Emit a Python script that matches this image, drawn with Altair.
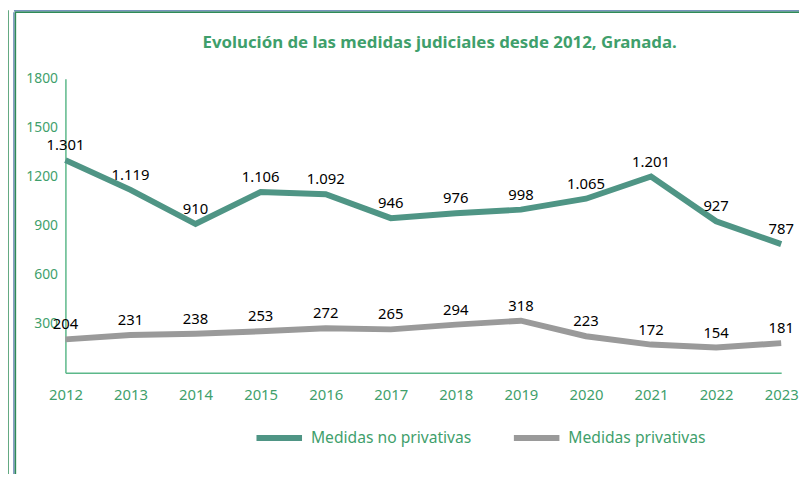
import altair as alt
import pandas as pd

years = [str(y) for y in range(2012, 2024)]
no_privativas = [1301, 1119, 910, 1106, 1092, 946, 976, 998, 1065, 1201, 927, 787]
privativas = [204, 231, 238, 253, 272, 265, 294, 318, 223, 172, 154, 181]
series_names = ["Medidas no privativas", "Medidas privativas"]
y_ticks = [300, 600, 900, 1200, 1500, 1800]
title_text = "Evolución de las medidas judiciales desde 2012, Granada."

def fmt(v):
    return f"{v:,}".replace(",", ".")

rows = []
for name, vals in zip(series_names, [no_privativas, privativas]):
    for y, v in zip(years, vals):
        rows.append({"year": y, "value": v, "serie": name, "label": fmt(v)})
df = pd.DataFrame(rows)

GREEN_TXT = "#3f9f6c"
AXIS_GREEN = "#5cb88a"
FONT = "Noto Sans"

x = alt.X("year:O", title=None, scale=alt.Scale(padding=0),
          axis=alt.Axis(labelAngle=0, ticks=False, domainColor=AXIS_GREEN, domainWidth=1.5,
                        labelColor=GREEN_TXT, labelFontSize=15, labelFont=FONT, labelPadding=15,
                        grid=False))
y = alt.Y("value:Q", title=None, scale=alt.Scale(domain=[0, 1800], nice=False),
          axis=alt.Axis(values=y_ticks, format="d", ticks=False, domainColor=AXIS_GREEN,
                        domainWidth=1.5, labelColor=GREEN_TXT, labelFontSize=14, labelFont=FONT,
                        labelPadding=8, grid=False))
color = alt.Color("serie:N", sort=series_names,
                  scale=alt.Scale(domain=series_names, range=["#4f9585", "#9a9a9a"]),
                  legend=alt.Legend(title=None, orient="none", direction="horizontal",
                                    legendX=190, legendY=337, symbolType="stroke",
                                    symbolSize=2116, symbolStrokeWidth=6, labelFont=FONT,
                                    labelFontSize=15.8, labelColor=GREEN_TXT, labelOffset=6,
                                    columnPadding=30, labelLimit=300))

base = alt.Chart(df)
lines = base.mark_line(strokeWidth=6).encode(x=x, y=y, color=color, detail="serie:N")
labels = base.mark_text(dy=-15, fontSize=15, font=FONT, color="black", baseline="middle").encode(
    x="year:O", y="value:Q", text="label:N")

deco = pd.DataFrame({"k": [0]})
title_mark = alt.Chart(deco).mark_text(
    text=title_text, font=FONT, fontSize=17, fontWeight="bold", color=GREEN_TXT,
    align="center", baseline="middle").encode(x=alt.value(378), y=alt.value(-36))
b1 = alt.Chart(deco).mark_rule(color="#2e8b57", strokeWidth=1.5).encode(
    x=alt.value(-58), y=alt.value(-69), y2=alt.value(400))
b2 = alt.Chart(deco).mark_rule(color="#4a6fa5", strokeWidth=1.2).encode(
    x=alt.value(-52), y=alt.value(-67), y2=alt.value(400))
b3 = alt.Chart(deco).mark_rule(color="#2e8b57", strokeWidth=1.5).encode(
    x=alt.value(-50.5), y=alt.value(-67), y2=alt.value(400))
b4 = alt.Chart(deco).mark_rule(color="#4a6fa5", strokeWidth=1.2).encode(
    x=alt.value(-52), x2=alt.value(745), y=alt.value(-68.5))
b5 = alt.Chart(deco).mark_rule(color="#2e8b57", strokeWidth=1.5).encode(
    x=alt.value(-51), x2=alt.value(745), y=alt.value(-67))

chart = alt.layer(b1, b2, b3, b4, b5, title_mark, lines, labels).properties(
    width=723, height=297,
    autosize=alt.AutoSizeParams(type="none"),
    padding={"left": 58, "top": 69, "right": 18, "bottom": 100},
).configure_view(stroke=None)

chart.save("out.html", embed_options={"renderer": "svg", "actions": False})
